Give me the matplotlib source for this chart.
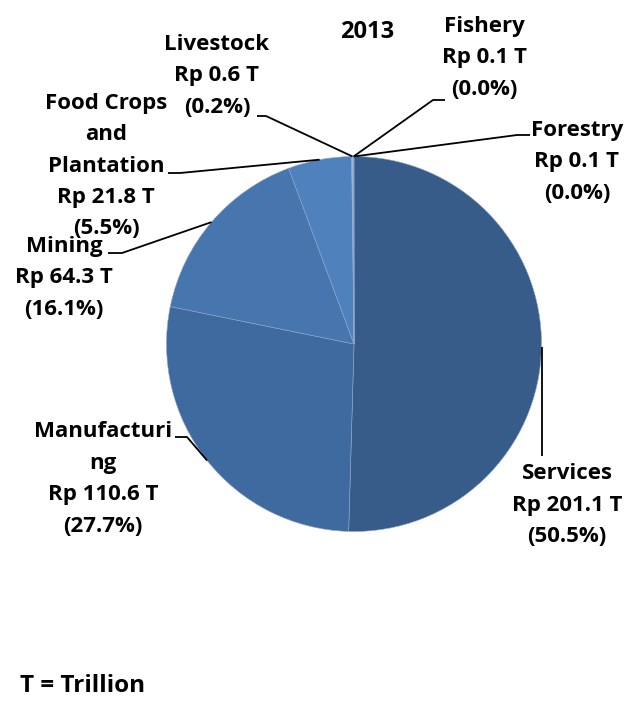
import matplotlib.pyplot as plt
import numpy as np

plt.rcParams['font.family'] = ['Open Sans', 'DejaVu Sans']

sectors = ["Services", "Manufacturing", "Mining", "Food Crops and Plantation",
           "Livestock", "Fishery", "Forestry"]
values = [201.1, 110.6, 64.3, 21.8, 0.6, 0.1, 0.1]
labels = [
    "Services\nRp 201.1 T\n(50.5%)",
    "Manufacturi\nng\nRp 110.6 T\n(27.7%)",
    "Mining\nRp 64.3 T\n(16.1%)",
    "Food Crops\nand\nPlantation\nRp 21.8 T\n(5.5%)",
    "Livestock\nRp 0.6 T\n(0.2%)",
    "Fishery\nRp 0.1 T\n(0.0%)",
    "Forestry\nRp 0.1 T\n(0.0%)",
]
colors = ["#375C89", "#3F6A9F", "#4775AD", "#4F81BD", "#9FB5D9", "#C5D1E6", "#7E9BC8"]

W, H = 643, 707
fig = plt.figure(figsize=(W / 100, H / 100), dpi=100)
ax = fig.add_axes([0, 0, 1, 1])

cx, cy, r = 354, H - 344, 187.5
wedges, _ = ax.pie(values, colors=colors, startangle=90, counterclock=False,
                   center=(cx, cy), radius=r, frame=True,
                   wedgeprops=dict(edgecolor='#8DA6CC', linewidth=0.4))
ax.set_xlim(0, W)
ax.set_ylim(0, H)
ax.axis('off')

# label block centers and leader line anchors (pixel coords, y down)
label_pos = [(567, 505), (103, 479), (64, 278), (106, 166), (217, 76), (484, 58), (577, 162)]
anchors = [
    [(541.5, 456)],
    [(175, 437), (187, 437)],
    [(108, 253), (122, 253)],
    [(168, 173), (180, 173)],
    [(257, 116), (266, 116)],
    [(445, 100), (433, 100)],
    [(530, 135), (517, 135)],
]

for w, lab, (lx, ly), anc in zip(wedges, labels, label_pos, anchors):
    mid = np.deg2rad((w.theta1 + w.theta2) / 2)
    px, py = cx + r * np.cos(mid), cy + r * np.sin(mid)
    if lab.startswith("Services"):
        px = anc[0][0]
    xs = [a[0] for a in anc] + [px]
    ys = [H - a[1] for a in anc] + [py]
    ax.plot(xs, ys, color='black', lw=1.3, solid_capstyle='butt')
    ax.text(lx, H - ly, lab, ha='center', va='center', fontsize=16,
            fontweight='bold', linespacing=1.65)

ax.text(367, H - 32, "2013", ha='center', va='center', fontsize=17, fontweight='bold')
ax.text(20, H - 686, "T = Trillion", ha='left', va='center', fontsize=17.5, fontweight='bold')

fig.savefig("out.png", dpi=100)
